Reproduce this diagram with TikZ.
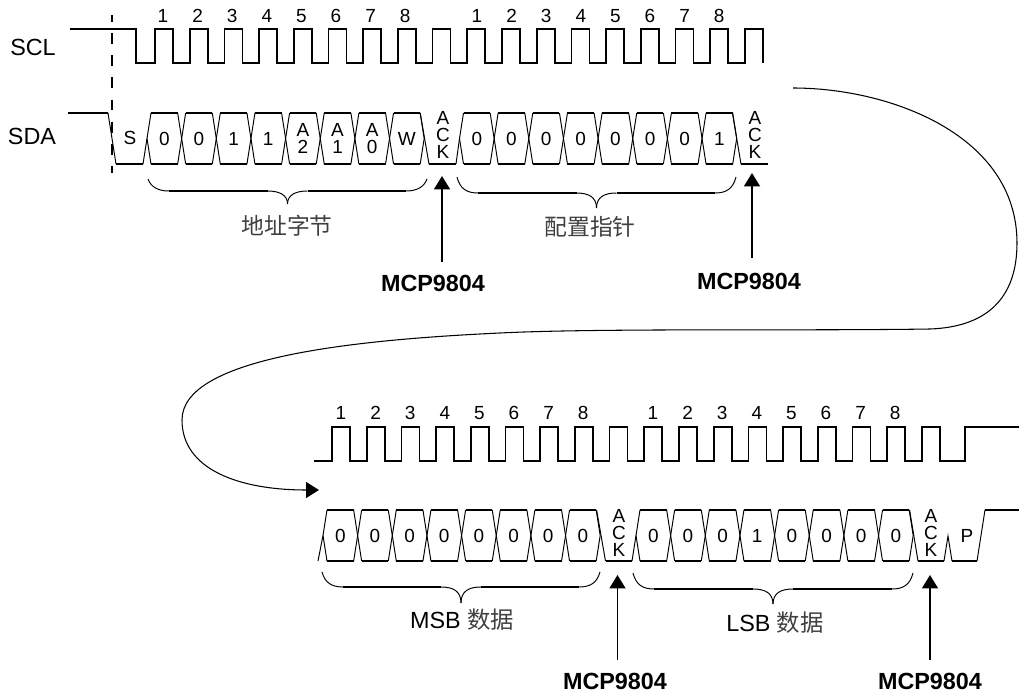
\documentclass[tikz,border=0pt]{standalone}
\usepackage{fontspec}
\setmainfont{Liberation Sans}
\newfontfamily\cjk{Noto Sans CJK SC}
\usepackage{tikz}
\usetikzlibrary{arrows.meta}

% one row of data cells: start x, top y, name prefix, cell texts
\newcommand{\cellrow}[4]{
\foreach \t [count=\i from 0] in {#4} {
  \pgfmathsetmacro{\c}{#1+34.65*\i}
  \draw[edge] (\c,#2+25.5) -- (\c+4,#2) (\c+30.65,#2) -- (\c+34.65,#2+25.5) -- (\c+30.65,#2+51) (\c+4,#2+51) -- (\c,#2+25.5);
  \draw[wave] (\c+4,#2) -- (\c+30.65,#2) (\c+4,#2+51) -- (\c+30.65,#2+51);
  \node[bit] (#3\i) at (\c+17.3,#2+25.5) {\t};
}}
% curly brace: left x, right x, top y, straight y, tip y
\newcommand{\busbrace}[5]{
\pgfmathsetmacro{\m}{(#1+#2)/2}
\draw[edge] (#1,#3) .. controls (#1+3,#4-4) and (#1+10,#4) .. (#1+21,#4);
\draw[wave] (#1+21,#4) -- (\m-20,#4);
\draw[edge] (\m-20,#4) .. controls (\m-8,#4) and (\m,#4+4) .. (\m,#5);
\draw[edge] (\m,#5) .. controls (\m,#4+4) and (\m+8,#4) .. (\m+20,#4);
\draw[wave] (\m+20,#4) -- (#2-21,#4);
\draw[edge] (#2-21,#4) .. controls (#2-10,#4) and (#2-3,#4-4) .. (#2,#3);
}

\begin{document}
\begin{tikzpicture}[
 x=0.02cm, y=-0.02cm,
 wave/.style={line width=1pt},
 edge/.style={line width=0.55pt},
 bit/.style={inner sep=0pt, align=center, font=\fontsize{10.8}{9.6}\selectfont},
 lbl/.style={inner sep=0pt, font=\fontsize{13.3}{15}\selectfont},
 chip/.style={inner sep=0pt, font=\fontsize{13.3}{15}\selectfont\bfseries},
 cjklbl/.style={inner sep=0pt, text=black!75, font=\fontsize{13}{15}\selectfont\cjk},
 ackarrow/.style={line width=1.1pt, -{Triangle[length=2.7mm,width=3.2mm]}},
 looparrow/.style={line width=0.6pt, -{Triangle[length=2.6mm,width=3.2mm]}}
]
\useasboundingbox (0,0) rectangle (1019,696);

\node[lbl] (scl) at (33,47) {SCL};
\node[lbl] (sda) at (32,136) {SDA};
\draw[line width=1.1pt, dash pattern=on 6.2pt off 6.4pt, dash phase=2.3pt] (112,15) -- (112,173);

% clock lines
\draw[wave] (70,29) -- (136,29) -- (136,63) \foreach \k in {0,...,17} { -- ({155+34.7*\k},63) -- ++(0,-34) -- ++(18,0) -- ++(0,34)};
\draw[wave] (314,461) \foreach \k in {0,...,17} { -- ({332+34.7*\k},461) -- ++(0,-34) -- ++(18,0) -- ++(0,34)} -- (965,461) -- (965,427) -- (1019,427);
\foreach \x/\y in {163/16,477/16,341/413,653/413} {
  \foreach \n in {1,...,8} {\node[bit] (tick\x-\n) at ({\x+34.6*(\n-1)},\y) {\n};}
}

% first data line
\draw[wave] (68,113) -- (108,113);
\draw[edge] (108,113) -- (116,164);
\draw[wave] (116,164) -- (143,164);
\draw[edge] (143,164) -- (147,138.5);
\node[bit] (start) at (130,138) {S};
\cellrow{147}{113}{addr}{0,0,1,1,{A\\2},{A\\1},{A\\0},W}
\draw[edge] (420.2,113) -- (429,164) (456,164) -- (459.5,138.5);
\draw[wave] (429,164) -- (456,164);
\node[bit] (ack1) at (443,135) {A\\C\\K};
\cellrow{459.5}{113}{ptr}{0,0,0,0,0,0,0,1}
\draw[edge] (732.4,113) -- (741,164);
\draw[wave] (741,164) -- (768,164);
\node[bit] (ack2) at (755,135) {A\\C\\K};

% second data line
\draw[edge] (318,561) -- (323,535.5);
\cellrow{323}{510}{msb}{0,0,0,0,0,0,0,0}
\draw[edge] (596.6,510) -- (605.5,561) (632,561) -- (636,535.5);
\draw[wave] (605.5,561) -- (632,561);
\node[bit] (ack3) at (619,533) {A\\C\\K};
\cellrow{636}{510}{lsb}{0,0,0,1,0,0,0,0}
\draw[edge] (909.6,510) -- (918,561) (944,561) -- (948,536) -- (952,561) (977,561) -- (985,510);
\draw[wave] (918,561) -- (944,561) (952,561) -- (977,561) (985,510) -- (1019,510);
\node[bit] (ack4) at (931,533) {A\\C\\K};
\node[bit] (stop) at (967,536) {P};

\busbrace{148}{427}{179}{191}{204}
\busbrace{457}{736}{177}{193}{208}
\busbrace{322}{600}{572}{587}{603}
\busbrace{633}{913}{573}{589}{604}
\node[cjklbl] (addrlbl) at (287,226) {地址字节};
\node[cjklbl] (ptrlbl) at (590,227) {配置指针};
\node[lbl] (msblbl) at (462,620) {MSB {\cjk\color{black!75} 数据}};
\node[lbl] (lsblbl) at (775,623) {LSB {\cjk\color{black!75} 数据}};

\node[chip] (chip1) at (433,283) {MCP9804};
\node[chip] (chip2) at (749,281) {MCP9804};
\node[chip] (chip3) at (615,681) {MCP9804};
\node[chip] (chip4) at (930,681) {MCP9804};
\coordinate (foot1) at (442,262);
\coordinate (foot2) at (752,258);
\coordinate (foot3) at (617.5,660);
\coordinate (foot4) at (930,660);
\coordinate (tip1) at (442,176);
\coordinate (tip2) at (752,173);
\coordinate (tip3) at (617.5,575);
\coordinate (tip4) at (930,575);
\foreach \i in {1,2,3,4} {\draw[ackarrow] (foot\i) -- (tip\i);}

% the line goes on
\coordinate (loopa) at (793,88);
\coordinate (loopb) at (319,490);
\draw[looparrow] (loopa) .. controls (890,88) and (1017,135) .. (1017,243)
  .. controls (1017,300) and (985,327) .. (930,329)
  .. controls (800,331) and (600,328) .. (500,333)
  .. controls (350,340) and (182,358) .. (182,420)
  .. controls (182,470) and (240,490) .. (loopb);
\end{tikzpicture}
\end{document}
